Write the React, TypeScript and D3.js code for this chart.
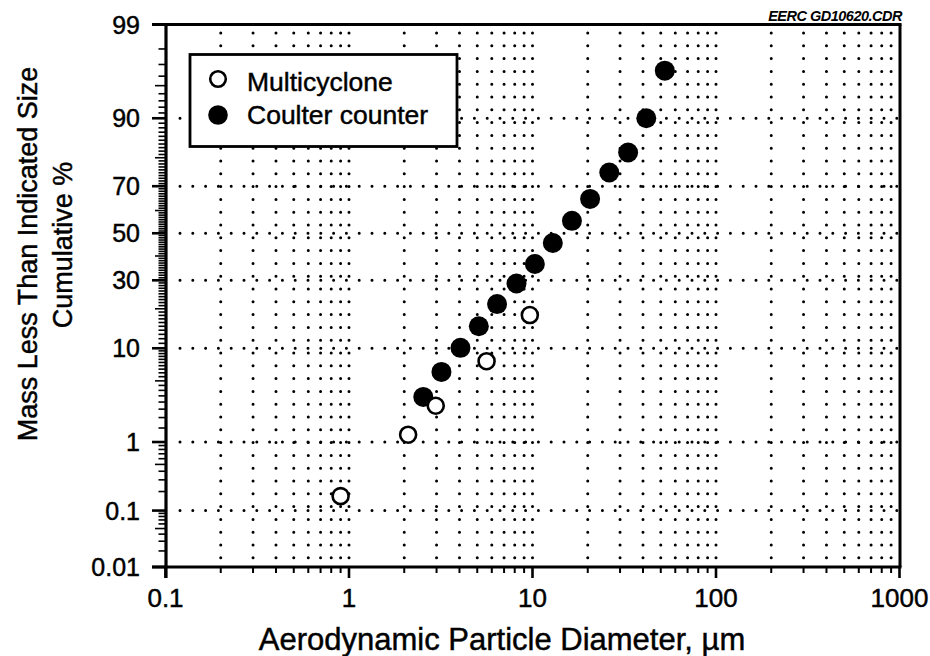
import React from "react";
import * as d3 from "d3";

// ---- data ----
const xTickValues = [0.1, 1, 10, 100, 1000];
const xTickLabels = ["0.1", "1", "10", "100", "1000"];
const yTickValues = [0.01, 0.1, 1, 10, 30, 50, 70, 90, 99];
const yTickLabels = ["0.01", "0.1", "1", "10", "30", "50", "70", "90", "99"];
const yGridValues = [0.1, 1, 10, 30, 50, 70, 90];

const multiD = [0.9, 2.1, 2.97, 5.62, 9.67];
const multiPct = [0.17, 1.24, 2.73, 7.7, 18.1];
const coulterD = [2.54, 3.19, 4.05, 5.1, 6.41, 8.18, 10.3, 12.9, 16.4, 20.6, 26.2, 33.2, 41.7, 52.6];
const coulterPct = [3.41, 6.12, 10.08, 15.0, 21.5, 28.8, 36.6, 45.7, 55.5, 64.9, 75.1, 81.6, 90.0, 96.5];

const legendLabels = ["Multicyclone", "Coulter counter"];

// inverse normal CDF (Acklam)
function probit(p: number): number {
  const a = [-3.969683028665376e1, 2.209460984245205e2, -2.759285104469687e2, 1.38357751867269e2, -3.066479806614716e1, 2.506628277459239];
  const b = [-5.447609879822406e1, 1.615858368580409e2, -1.556989798598866e2, 6.680131188771972e1, -1.328068155288572e1];
  const c = [-7.784894002430293e-3, -3.223964580411365e-1, -2.400758277161838, -2.549671348620698, 4.374664141464968, 2.938163982698783];
  const d = [7.784695709041462e-3, 3.224671290700398e-1, 2.445134137142996, 3.754408661907416];
  const plow = 0.02425;
  const phigh = 1 - plow;
  if (p < plow) {
    const q = Math.sqrt(-2 * Math.log(p));
    return (((((c[0] * q + c[1]) * q + c[2]) * q + c[3]) * q + c[4]) * q + c[5]) / ((((d[0] * q + d[1]) * q + d[2]) * q + d[3]) * q + 1);
  }
  if (p <= phigh) {
    const q = p - 0.5;
    const r = q * q;
    return ((((((a[0] * r + a[1]) * r + a[2]) * r + a[3]) * r + a[4]) * r + a[5]) * q) / (((((b[0] * r + b[1]) * r + b[2]) * r + b[3]) * r + b[4]) * r + 1);
  }
  const q = Math.sqrt(-2 * Math.log(1 - p));
  return -(((((c[0] * q + c[1]) * q + c[2]) * q + c[3]) * q + c[4]) * q + c[5]) / ((((d[0] * q + d[1]) * q + d[2]) * q + d[3]) * q + 1);
}

const W = 930;
const H = 656;
const L = 166;
const R = 900;
const T = 24.5;
const B = 567;

const xScale = d3.scaleLog().domain([0.1, 1000]).range([165.5, 899.5]);
const zScale = d3.scaleLinear().domain([probit(0.0001), probit(0.99)]).range([B, T]);
const yPos = (pct: number) => zScale(probit(pct / 100));

const FONT = "'Liberation Sans', Arial, Helvetica, sans-serif";
const ink = { stroke: "#000", strokeWidth: 0.45 };

export default function App() {
  const vGrid: number[] = [];
  [0.1, 1, 10, 100].forEach((dec) => {
    for (let k = 1; k <= 9; k++) {
      if (dec === 0.1 && k === 1) continue;
      vGrid.push(dec * k);
    }
  });
  const xMinor: number[] = [];
  [0.1, 1, 10, 100].forEach((dec) => {
    for (let k = 2; k <= 9; k++) xMinor.push(dec * k);
  });
  const yMinor: number[] = [];
  for (let v = 2; v <= 9; v++) yMinor.push(v / 100);
  for (let v = 2; v <= 9; v++) yMinor.push(v / 10);
  for (let v = 1.5; v < 10; v += 0.5) yMinor.push(v);
  for (let v = 11; v <= 98; v++) yMinor.push(v);
  const yMedium = new Set([0.05, 0.5, 5, 20, 40, 60, 80, 95]);

  const dot = { stroke: "#000", strokeWidth: 3, strokeLinecap: "round" as const, strokeDasharray: "0 12.8" };

  return (
    <svg width={W} height={H} style={{ position: "absolute", left: 0, top: 0, background: "#fff" }} fontFamily={FONT}>
      <rect x={0} y={0} width={W} height={H} fill="#fff" />
      {/* grid */}
      {vGrid.map((v, i) => (
        <line key={"vg" + i} x1={xScale(v)} x2={xScale(v)} y1={33} y2={562} {...dot} />
      ))}
      {yGridValues.map((p, i) => (
        <line key={"hg" + i} x1={180} x2={898} y1={yPos(p)} y2={yPos(p)} {...dot} />
      ))}

      {/* axes frame */}
      <line x1={152} x2={R + 1.5} y1={T} y2={T} stroke="#000" strokeWidth={3.2} />
      <line x1={R} x2={R} y1={T} y2={B} stroke="#000" strokeWidth={3} />
      <line x1={152} x2={R + 1.5} y1={B} y2={B} stroke="#000" strokeWidth={3.2} />
      <line x1={L} x2={L} y1={T} y2={B + 11} stroke="#000" strokeWidth={3.2} />

      {/* y ticks */}
      {yTickValues.map((p, i) => (
        <line key={"yt" + i} x1={152} x2={L} y1={yPos(p)} y2={yPos(p)} stroke="#000" strokeWidth={2.6} />
      ))}
      {yMinor.map((p, i) => (
        <line key={"ym" + i} x1={yMedium.has(p) ? 155 : 158.5} x2={L} y1={yPos(p)} y2={yPos(p)} stroke="#000" strokeWidth={1.6} />
      ))}
      {yTickValues.map((p, i) => (
        <text key={"yl" + i} x={140} y={yPos(p)} dy="0.36em" textAnchor="end" fontSize={25} {...ink}>
          {yTickLabels[i]}
        </text>
      ))}

      {/* x ticks */}
      {xTickValues.map((v, i) => (
        <line key={"xt" + i} x1={xScale(v)} x2={xScale(v)} y1={B} y2={578} stroke="#000" strokeWidth={2.6} />
      ))}
      {xMinor.map((v, i) => (
        <line key={"xm" + i} x1={xScale(v)} x2={xScale(v)} y1={B} y2={573} stroke="#000" strokeWidth={2} />
      ))}
      {xTickValues.map((v, i) => (
        <text key={"xl" + i} x={xScale(v)} y={607} textAnchor="middle" fontSize={26} {...ink}>
          {xTickLabels[i]}
        </text>
      ))}

      {/* axis titles */}
      <text x={502} y={650} textAnchor="middle" fontSize={31} {...ink}>
        Aerodynamic Particle Diameter, {"\u00b5"}m
      </text>
      <text transform="translate(37,254) rotate(-90)" textAnchor="middle" fontSize={27} {...ink}>
        Mass Less Than Indicated Size
      </text>
      <text transform="translate(72,245) rotate(-90)" textAnchor="middle" fontSize={27} {...ink}>
        Cumulative %
      </text>

      {/* file tag */}
      <text x={902} y={21} textAnchor="end" fontSize={14.5} fontWeight="bold" fontStyle="italic" letterSpacing={-0.5}>
        EERC GD10620.CDR
      </text>

      {/* legend */}
      <rect x={190} y={54.5} width={267} height={92} fill="#fff" stroke="#000" strokeWidth={2.8} />
      <circle cx={218} cy={79} r={7.8} fill="#fff" stroke="#000" strokeWidth={2.6} />
      <circle cx={218} cy={115} r={9.8} fill="#000" />
      <text x={247} y={90.5} fontSize={26.5} {...ink}>
        {legendLabels[0]}
      </text>
      <text x={247} y={124} fontSize={26.5} {...ink}>
        {legendLabels[1]}
      </text>

      {/* data */}
      {coulterD.map((d, i) => (
        <circle key={"c" + i} cx={xScale(d)} cy={yPos(coulterPct[i])} r={10} fill="#000" />
      ))}
      {multiD.map((d, i) => (
        <circle key={"m" + i} cx={xScale(d)} cy={yPos(multiPct[i])} r={8} fill="#fff" stroke="#000" strokeWidth={2.6} />
      ))}
    </svg>
  );
}
